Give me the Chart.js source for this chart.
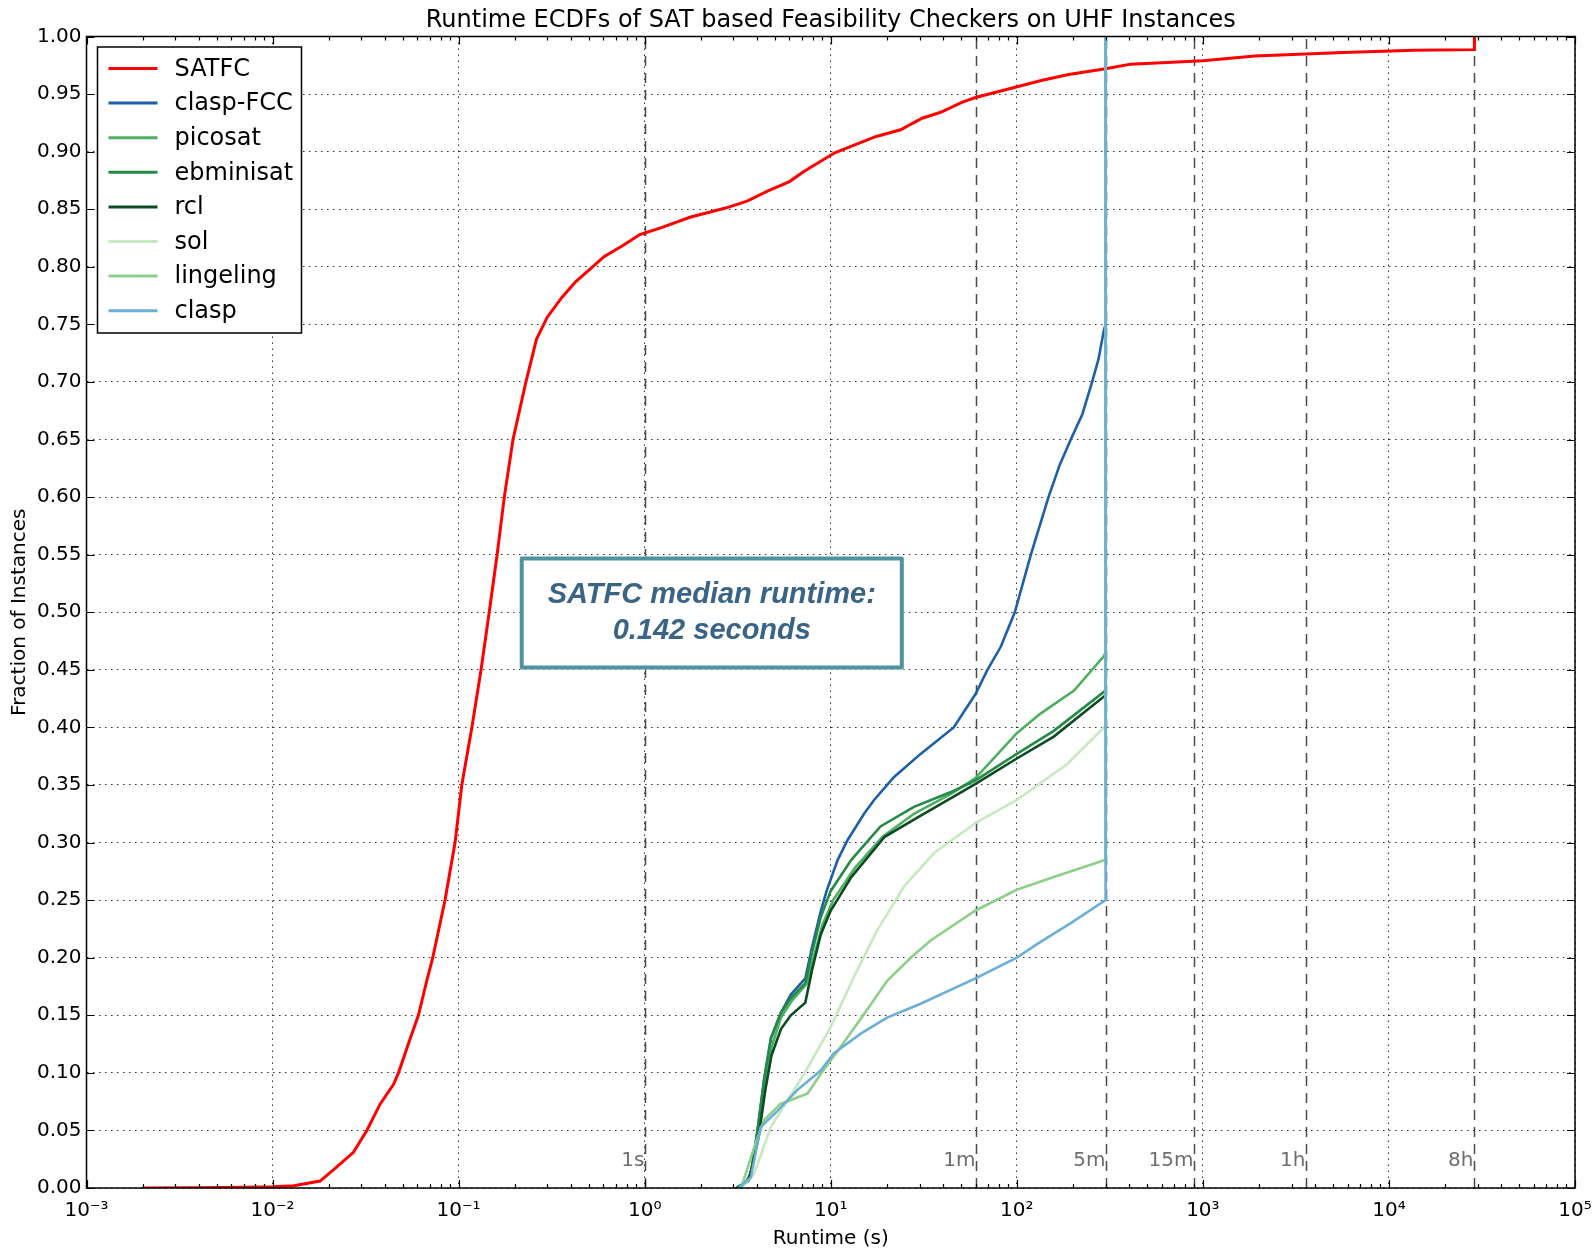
<!DOCTYPE html>
<html>
<head>
<meta charset="utf-8">
<title>Runtime ECDFs</title>
<script src="https://cdn.jsdelivr.net/npm/chart.js@4/dist/chart.umd.min.js"></script>
<style>
    html, body { margin: 0; padding: 0; background: #fff; }
</style>
</head>
<body>
<canvas id="ecdf-chart" width="1595" height="1251"></canvas>
<script>
// Runtime ECDF per solver: runtime (s) and fraction of instances solved
const satfcTime = [0.002, 0.004, 0.007, 0.01, 0.013, 0.018, 0.022, 0.0272, 0.0321, 0.0379, 0.0447, 0.0475, 0.055, 0.0608, 0.0674, 0.0726,
    0.0845, 0.0957, 0.104, 0.1178, 0.132, 0.146, 0.161, 0.176, 0.196, 0.23, 0.262, 0.299, 0.357, 0.425, 0.508, 0.607, 0.756, 0.942,
    1.23, 1.75, 2.72, 3.55, 4.6, 6.0, 7.2, 10.5, 17.4, 23.7, 31, 38.7, 51, 60, 88, 137, 190, 300, 409, 1000, 1900, 5690, 13700, 28800, 28800];
const satfcFrac = [0, 0.0003, 0.0007, 0.001, 0.002, 0.006, 0.018, 0.031, 0.05, 0.073, 0.09, 0.10, 0.13, 0.15, 0.18, 0.20,
    0.25, 0.30, 0.35, 0.40, 0.45, 0.50, 0.55, 0.60, 0.65, 0.70, 0.737, 0.756, 0.773, 0.787, 0.798, 0.809, 0.818, 0.828,
    0.834, 0.843, 0.851, 0.857, 0.866, 0.874, 0.883, 0.899, 0.913, 0.919, 0.929, 0.934, 0.943, 0.947, 0.954, 0.962, 0.967, 0.972, 0.976, 0.979, 0.983, 0.986, 0.988, 0.9886, 1.0];

const claspFccTime = [3.1, 3.5, 3.72, 4.04, 4.39, 4.77, 5.39, 6.1, 7.3, 7.95, 8.83, 9.5, 10.9, 12.3, 15.1, 17.1, 21.9, 30.4, 45.8,
    60, 69.5, 82, 97.5, 119, 148, 170, 195, 225, 254, 275, 294, 300, 300];
const claspFccFrac = [0, 0.005, 0.012, 0.05, 0.095, 0.13, 0.152, 0.168, 0.182, 0.21, 0.24, 0.258, 0.285, 0.302, 0.325, 0.337, 0.357, 0.377, 0.4,
    0.429, 0.45, 0.47, 0.5, 0.55, 0.6, 0.628, 0.65, 0.672, 0.7, 0.72, 0.745, 0.75, 1.0];

const picosatTime = [3.2, 3.6, 3.8, 4.1, 4.45, 4.8, 5.4, 6.2, 7.4, 8.1, 9.0, 10.3, 13.5, 19, 28, 45, 60, 100, 134, 203, 294, 300, 300];
const picosatFrac = [0, 0.006, 0.02, 0.05, 0.09, 0.122, 0.148, 0.163, 0.177, 0.2, 0.228, 0.25, 0.278, 0.305, 0.325, 0.343, 0.356, 0.395, 0.412, 0.432, 0.462, 0.465, 1.0];

const ebminisatTime = [3.1, 3.5, 3.72, 4.04, 4.39, 4.77, 5.39, 6.1, 7.3, 7.95, 8.83, 10, 12.9, 18.5, 28, 46, 60, 100, 158, 300, 300];
const ebminisatFrac = [0, 0.005, 0.012, 0.05, 0.095, 0.13, 0.152, 0.165, 0.178, 0.205, 0.235, 0.258, 0.285, 0.314, 0.331, 0.345, 0.354, 0.377, 0.397, 0.432, 1.0];

const rclTime = [3.2, 3.6, 3.8, 4.1, 4.45, 4.8, 5.4, 6.1, 7.3, 7.95, 8.83, 10, 12.9, 19.5, 29.5, 46, 60, 100, 158, 300, 300];
const rclFrac = [0, 0.006, 0.02, 0.045, 0.085, 0.115, 0.138, 0.15, 0.161, 0.19, 0.22, 0.241, 0.27, 0.305, 0.322, 0.34, 0.351, 0.373, 0.392, 0.428, 1.0];

const solTime = [3.3, 3.87, 4.76, 7.19, 10, 13.3, 17.8, 24.8, 35.9, 60, 100, 186, 294, 300, 300];
const solFrac = [0, 0.012, 0.053, 0.099, 0.14, 0.183, 0.224, 0.262, 0.291, 0.317, 0.337, 0.368, 0.4, 0.402, 1.0];

const lingelingTime = [3.3, 3.87, 4.39, 5.37, 7.5, 8.83, 10.9, 15.1, 20.1, 26.9, 34.4, 60, 100, 158, 300, 300];
const lingelingFrac = [0, 0.035, 0.059, 0.073, 0.082, 0.099, 0.119, 0.151, 0.18, 0.2, 0.215, 0.241, 0.259, 0.27, 0.285, 1.0];

const claspTime = [3.2, 3.72, 4.2, 5.18, 6.6, 8.83, 10.4, 14.5, 20.1, 30.4, 60, 100, 129, 195, 300, 300];
const claspFrac = [0, 0.009, 0.053, 0.067, 0.085, 0.102, 0.117, 0.134, 0.148, 0.16, 0.182, 0.2, 0.212, 0.23, 0.25, 1.0];

const solverNames = ['SATFC', 'clasp-FCC', 'picosat', 'ebminisat', 'rcl', 'sol', 'lingeling', 'clasp'];
const solverColors = ['#ff0000', '#1d5fa9', '#4daf5f', '#238b45', '#0b4a22', '#c7e9c0', '#8fcf8a', '#6baed6'];
const solverRuns = [
    [satfcTime, satfcFrac], [claspFccTime, claspFccFrac], [picosatTime, picosatFrac], [ebminisatTime, ebminisatFrac],
    [rclTime, rclFrac], [solTime, solFrac], [lingelingTime, lingelingFrac], [claspTime, claspFrac]
];

// As-labels en tijdmarkeringen
const xDecades = [1e-3, 1e-2, 1e-1, 1, 10, 100, 1000, 1e4, 1e5];
const timeMarkValues = [1, 60, 300, 900, 3600, 28800];
const timeMarkLabels = ['1s', '1m', '5m', '15m', '1h', '8h'];
const chartTitle = 'Runtime ECDFs of SAT based Feasibility Checkers on UHF Instances';

const FONT = '"DejaVu Sans", "Bitstream Vera Sans", sans-serif';
Chart.defaults.font.family = FONT;
Chart.defaults.color = '#000';

const superDigits = { '-': '\u207B', '0': '\u2070', '1': '\u00B9', '2': '\u00B2', '3': '\u00B3', '4': '\u2074', '5': '\u2075' };
function decadeLabel(v) {
    const e = Math.round(Math.log10(v));
    return '10' + String(e).split('').map(c => superDigits[c]).join('');
}

const datasets = solverRuns.map(([times, fracs], i) => ({
    label: solverNames[i],
    data: times.map((t, k) => ({ x: t, y: fracs[k] })),
    borderColor: solverColors[i],
    backgroundColor: solverColors[i],
    borderWidth: i === 0 ? 3 : 2.6,
    pointRadius: 0,
    tension: 0,
    fill: false,
    order: -i
}));

// Titel gecentreerd boven het plotvlak
const axesTitle = {
    id: 'axesTitle',
    afterDraw(chart) {
        const { ctx, chartArea } = chart;
        ctx.save();
        ctx.font = '24px ' + FONT;
        ctx.fillStyle = '#000';
        ctx.textAlign = 'center';
        ctx.textBaseline = 'middle';
        ctx.fillText(chartTitle, (chartArea.left + chartArea.right) / 2, 20.5);
        ctx.restore();
    }
};

// Gestippelde verticale lijnen voor 1s, 1m, 5m ...
const timeMarks = {
    id: 'timeMarks',
    beforeDatasetsDraw(chart) {
        const { ctx, chartArea, scales: { x, y } } = chart;
        ctx.save();
        ctx.strokeStyle = '#4a4a4a';
        ctx.lineWidth = 1.5;
        ctx.setLineDash([10, 7]);
        timeMarkValues.forEach((v, i) => {
            const px = Math.round(x.getPixelForValue(v)) + 0.5;
            ctx.beginPath();
            ctx.moveTo(px, chartArea.bottom);
            ctx.lineTo(px, chartArea.top);
            ctx.stroke();
            ctx.font = '20px ' + FONT;
            ctx.fillStyle = '#6e6e6e';
            ctx.textAlign = 'right';
            ctx.textBaseline = 'middle';
            ctx.fillText(timeMarkLabels[i], px - 1, y.getPixelForValue(0.024));
        });
        ctx.restore();
    }
};

// Kader en naar binnen gerichte maatstreepjes (zoals matplotlib)
const frameTicks = {
    id: 'frameTicks',
    afterDatasetsDraw(chart) {
        const { ctx, chartArea: a, scales: { x, y } } = chart;
        ctx.save();
        ctx.strokeStyle = '#000';
        ctx.lineWidth = 1.2;
        ctx.beginPath();
        xDecades.forEach((d, k) => {
            const px = Math.round(x.getPixelForValue(d)) + 0.5;
            ctx.moveTo(px, a.bottom); ctx.lineTo(px, a.bottom - 8);
            ctx.moveTo(px, a.top); ctx.lineTo(px, a.top + 8);
            if (k < xDecades.length - 1) {
                for (let m = 2; m <= 9; m++) {
                    const mx = Math.round(x.getPixelForValue(d * m)) + 0.5;
                    ctx.moveTo(mx, a.bottom); ctx.lineTo(mx, a.bottom - 4);
                    ctx.moveTo(mx, a.top); ctx.lineTo(mx, a.top + 4);
                }
            }
        });
        y.ticks.forEach(t => {
            const py = Math.round(y.getPixelForValue(t.value)) + 0.5;
            ctx.moveTo(a.left, py); ctx.lineTo(a.left + 8, py);
            ctx.moveTo(a.right, py); ctx.lineTo(a.right - 8, py);
        });
        ctx.stroke();
        ctx.lineWidth = 1.5;
        ctx.strokeRect(a.left, a.top, a.right - a.left, a.bottom - a.top);
        ctx.restore();
    }
};

// Kader met de mediane looptijd van SATFC
const medianNote = {
    id: 'medianNote',
    afterDatasetsDraw(chart, args, opts) {
        const { ctx, scales: { x, y } } = chart;
        const left = x.getPixelForValue(opts.xMin), right = x.getPixelForValue(opts.xMax);
        const top = y.getPixelForValue(opts.yMax), bottom = y.getPixelForValue(opts.yMin);
        ctx.save();
        ctx.fillStyle = '#fff';
        ctx.fillRect(left, top, right - left, bottom - top);
        ctx.strokeStyle = '#4e939e';
        ctx.lineWidth = 4;
        ctx.lineJoin = 'round';
        ctx.strokeRect(left + 2, top + 2, right - left - 4, bottom - top - 4);
        ctx.fillStyle = '#3a6486';
        ctx.font = 'italic bold 29px "Liberation Sans", Arial, sans-serif';
        ctx.textAlign = 'center';
        ctx.textBaseline = 'middle';
        const cx = (left + right) / 2, cy = (top + bottom) / 2;
        ctx.fillText(opts.lines[0], cx, cy - 18);
        ctx.fillText(opts.lines[1], cx, cy + 18);
        ctx.restore();
    }
};

// Legenda linksboven in het plotvlak
const legendBox = {
    id: 'legendBox',
    afterDatasetsDraw(chart) {
        const { ctx, chartArea } = chart;
        const x0 = chartArea.left + 11, y0 = chartArea.top + 10.5;
        const w = 204, h = 286, rowH = 34.6;
        ctx.save();
        ctx.fillStyle = '#fff';
        ctx.fillRect(x0, y0, w, h);
        ctx.strokeStyle = '#000';
        ctx.lineWidth = 1.5;
        ctx.strokeRect(x0, y0, w, h);
        ctx.font = '24px ' + FONT;
        ctx.textBaseline = 'middle';
        chart.data.datasets.forEach((ds, i) => {
            const cy = y0 + 21.5 + i * rowH;
            ctx.strokeStyle = ds.borderColor;
            ctx.lineWidth = 3;
            ctx.beginPath();
            ctx.moveTo(x0 + 11, cy);
            ctx.lineTo(x0 + 60, cy);
            ctx.stroke();
            ctx.fillStyle = '#000';
            ctx.fillText(ds.label, x0 + 77, cy + 1);
        });
        ctx.restore();
    }
};

const ctx = document.getElementById('ecdf-chart').getContext('2d');
const ecdfChart = new Chart(ctx, {
    type: 'line',
    data: { datasets: datasets },
    options: {
        responsive: false,
        animation: false,
        layout: { padding: { left: 0, right: 20, top: 36.5, bottom: 0 } },
        plugins: {
            legend: { display: false },
            tooltip: { enabled: false },
            title: { display: false },
            medianNote: {
                xMin: 0.213, xMax: 24.7, yMin: 0.4503, yMax: 0.5484,
                lines: ['SATFC median runtime:', '0.142 seconds']
            }
        },
        scales: {
            x: {
                type: 'logarithmic',
                min: 1e-3,
                max: 1e5,
                afterBuildTicks: (scale) => { scale.ticks = xDecades.map(v => ({ value: v })); },
                afterFit: (scale) => { scale.height = 63; scale.paddingLeft = 0; scale.paddingRight = 0; },
                ticks: {
                    autoSkip: false,
                    maxRotation: 0,
                    padding: 11,
                    font: { size: 20 },
                    callback: (value) => decadeLabel(value)
                },
                grid: { color: 'rgba(0,0,0,0.8)', lineWidth: 1, drawTicks: false },
                border: { display: false, dash: [1.5, 4.5] },
                title: { display: true, text: 'Runtime (s)', font: { size: 20 }, padding: { top: 0, bottom: 0 } }
            },
            y: {
                min: 0,
                max: 1,
                afterFit: (scale) => { scale.width = 86.5; scale.paddingTop = 0; scale.paddingBottom = 0; },
                ticks: {
                    stepSize: 0.05,
                    autoSkip: false,
                    padding: 5,
                    font: { size: 20 },
                    callback: (value) => value.toFixed(2)
                },
                grid: { color: 'rgba(0,0,0,0.8)', lineWidth: 1, drawTicks: false },
                border: { display: false, dash: [1.5, 4.5] },
                title: { display: true, text: 'Fraction of Instances', font: { size: 20 }, padding: { top: 8, bottom: 0 } }
            }
        }
    },
    plugins: [axesTitle, timeMarks, frameTicks, medianNote, legendBox]
});
</script>
</body>
</html>
